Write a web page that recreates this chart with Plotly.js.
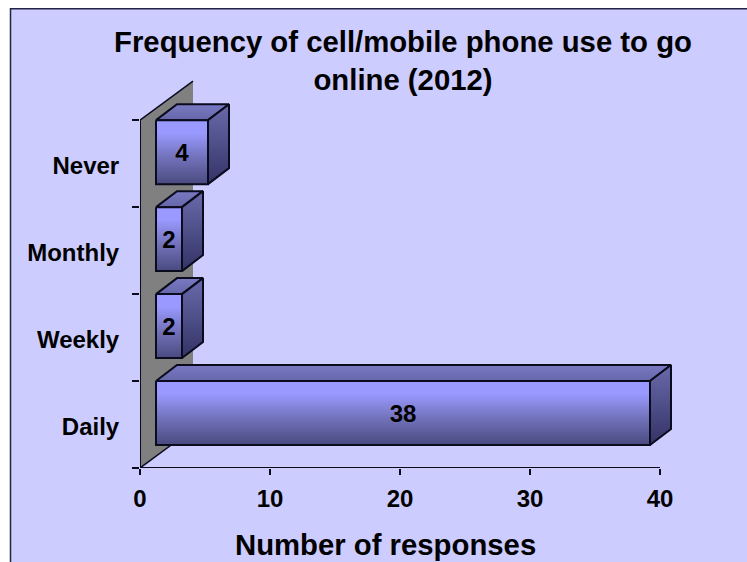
<!DOCTYPE html>
<html>
<head>
<meta charset="utf-8">
<script src="https://cdn.plot.ly/plotly-3.0.1.min.js"></script>
<style>html,body{margin:0;padding:0;background:#fff}</style>
</head>
<body>
<div id="chart"></div>
<script>
// Survey results, bottom row first
const categories = ['Daily', 'Weekly', 'Monthly', 'Never'];
const responses = [38, 2, 2, 4];
const xTicks = [0, 10, 20, 30, 40];
const chartTitle = 'Frequency of cell/mobile phone use to go<br>online (2012)';
const xTitle = 'Number of responses';

// Axis extents: the scale stops at xMax / yMax, the box leaves room for the 3D depth above and right
const W = 747, H = 562;
const xMax = 40, yMax = 4;
const xLimit = 42, yLimit = 4.6;
const pxX = 13, pxY = 87;          // pixels per response, per category band
const L = 140, B = 468;
const R = L + xLimit * pxX, T = B - yLimit * pxY;

// Fake-perspective offsets, expressed in axis units
const barInset = 16 / pxX;
const depthX = 21 / pxX, depthY = 16 / pxY;
const barH = 64 / pxY;
const wallX = 53 / pxX, wallY = 39 / pxY;
const labelDrop = 3 / pxY;

const EDGE = '#0b0b1e';
const font = {family: '"Liberation Sans", Arial, sans-serif', color: '#000', weight: 700};

function face(xs, ys, scale) {
  return {
    type: 'scatter', mode: 'lines', x: xs.concat(xs[0]), y: ys.concat(ys[0]),
    fill: 'toself', fillcolor: scale[0][1],
    fillgradient: {type: 'vertical', colorscale: scale},
    line: {color: EDGE, width: 2},
    hoverinfo: 'skip', showlegend: false
  };
}

const traces = [];

// Gray back wall, with dark edges on the top and floor sides
traces.push({
  type: 'scatter', mode: 'none',
  x: [0, 0, wallX, wallX, 0], y: [0, yMax, yMax + wallY, wallY, 0],
  fill: 'toself', fillcolor: '#808080',
  hoverinfo: 'skip', showlegend: false
});
traces.push({
  type: 'scatter', mode: 'lines',
  x: [wallX, 0, null, 0, wallX], y: [yMax + wallY, yMax, null, 0, wallY],
  line: {color: EDGE, width: 1.5},
  hoverinfo: 'skip', showlegend: false
});

// Axis lines, kept to the 0-40 and four-band extents
traces.push({
  type: 'scatter', mode: 'lines',
  x: [0, 0, xMax], y: [yMax, 0, 0],
  line: {color: EDGE, width: 2},
  cliponaxis: false, hoverinfo: 'skip', showlegend: false
});

const frontScale = [[0, '#4a4a80'], [0.4, '#7070b8'], [0.8, '#9999ff'], [1, '#9999ff']];
const topScale = [[0, '#6666aa'], [1, '#7a7ac4']];
const sideScale = [[0, '#333366'], [1, '#6a6aac']];

// Boxes go back to front so the lower ones overlap the upper ones
for (let i = categories.length - 1; i >= 0; i--) {
  const x0 = barInset, x1 = barInset + responses[i];
  const yt = i + 1, yb = yt - barH;
  traces.push(face([x0, x1, x1 + depthX, x0 + depthX], [yt, yt, yt + depthY, yt + depthY], topScale));
  traces.push(face([x1, x1 + depthX, x1 + depthX, x1], [yt, yt + depthY, yb + depthY, yb], sideScale));
  traces.push(face([x0, x1, x1, x0], [yt, yt, yb, yb], frontScale));
}

// Value labels centred on each front face
traces.push({
  type: 'scatter', mode: 'text',
  x: responses.map(v => barInset + v / 2),
  y: categories.map((c, i) => i + 1 - barH / 2 - labelDrop),
  text: responses.map(String),
  textposition: 'middle center',
  textfont: Object.assign({}, font, {size: 24}),
  cliponaxis: false, hoverinfo: 'skip', showlegend: false
});

const layout = {
  width: W, height: H, autosize: false,
  margin: {l: L, r: W - R, t: T, b: H - B, pad: 0},
  paper_bgcolor: '#ffffff', plot_bgcolor: 'rgba(0,0,0,0)',
  showlegend: false,
  title: {
    text: chartTitle,
    font: Object.assign({}, font, {size: 29.3}),
    x: 403 / W, xanchor: 'center', y: 1 - 52 / H, yanchor: 'middle'
  },
  xaxis: {
    range: [0, xLimit], tickmode: 'array', tickvals: xTicks, ticktext: xTicks.map(String),
    showgrid: false, zeroline: false, showline: false,
    ticks: 'outside', ticklen: 6, tickwidth: 1.5, tickcolor: EDGE,
    ticklabelstandoff: 3,
    tickfont: Object.assign({}, font, {size: 24})
  },
  yaxis: {
    range: [0, yLimit], tickmode: 'array',
    tickvals: categories.map((c, i) => i + 0.5), ticktext: categories,
    showgrid: false, zeroline: false, showline: false,
    ticks: 'outside', ticklen: 15, tickwidth: 1, tickcolor: 'rgba(0,0,0,0)',
    ticklabelshift: 2,
    minor: {tickmode: 'linear', tick0: 0, dtick: 1, ticks: 'outside', ticklen: 7, tickwidth: 1.5, tickcolor: EDGE, showgrid: false},
    tickfont: Object.assign({}, font, {size: 24})
  },
  shapes: [{
    // Lavender panel with its dark frame; it runs off the right and bottom edges
    type: 'rect', xref: 'paper', yref: 'paper', layer: 'below',
    x0: (10.5 - L) / (R - L), x1: (W + 10 - L) / (R - L),
    y0: (B - H - 10) / (B - T), y1: (B - 8.5) / (B - T),
    fillcolor: '#ccccff', line: {color: '#222244', width: 1.5}
  }],
  annotations: [{
    text: xTitle, xref: 'paper', yref: 'paper', showarrow: false,
    x: (385 - L) / (R - L), y: (B - 545) / (B - T),
    xanchor: 'center', yanchor: 'middle',
    font: Object.assign({}, font, {size: 29.3})
  }]
};

Plotly.newPlot('chart', traces, layout, {displayModeBar: false, staticPlot: true});
</script>
</body>
</html>
